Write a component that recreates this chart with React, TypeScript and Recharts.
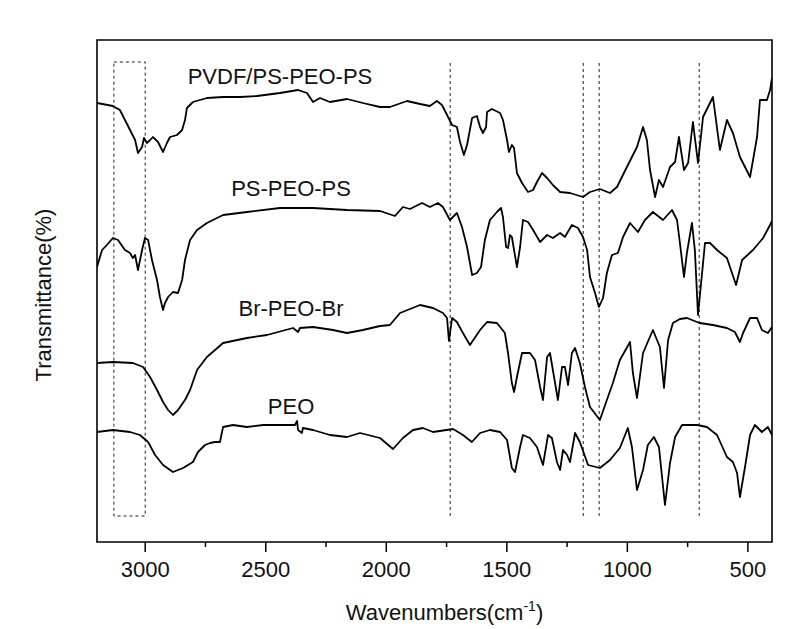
import React from 'react';
import { LineChart, Line, XAxis, YAxis, ReferenceArea, ReferenceLine, ReferenceDot, Label } from 'recharts';

const FONT = '"Liberation Sans", Arial, Helvetica, sans-serif';

// Wavenumbers (cm-1) and transmittance (arbitrary, offset units) for each spectrum
const pvdfWave = [3200,3134,3105,3084,3063,3042,3030,3013,3005,2993,2980,2968,2947,2926,2910,2897,2868,2847,2835,2827,2802,2744,2677,2607,2536,2441,2366,2329,2304,2275,2234,2163,2097,2026,1985,1914,1860,1819,1790,1769,1748,1727,1707,1694,1678,1665,1644,1624,1611,1599,1586,1582,1562,1528,1516,1499,1491,1479,1470,1458,1437,1412,1391,1375,1354,1333,1309,1279,1238,1184,1155,1114,1072,1043,1002,960,935,919,906,885,869,852,823,802,786,765,748,728,707,686,645,616,587,562,533,491,462,450,421,408,400];
const pvdfT = [439,436,432,422,412,402,389,395,404,399,402,405,400,390,399,405,407,412,422,434,440,444,445,445,446,449,452,449,440,444,440,443,439,435,435,441,438,436,441,437,427,417,415,400,387,397,424,426,415,409,415,430,433,429,422,402,390,397,394,369,359,350,352,360,369,364,357,350,349,345,350,353,349,355,375,395,415,402,372,345,362,355,375,380,405,372,379,420,379,425,445,392,422,409,385,365,405,442,442,452,464];

const psWave = [3200,3179,3159,3134,3113,3084,3063,3051,3042,3030,3013,3001,2988,2972,2951,2939,2926,2918,2905,2885,2864,2847,2835,2814,2785,2744,2677,2578,2441,2304,2163,2026,1964,1931,1902,1852,1819,1786,1765,1736,1707,1686,1665,1644,1624,1607,1591,1570,1541,1524,1516,1503,1495,1487,1479,1470,1458,1445,1433,1412,1391,1362,1333,1309,1279,1259,1230,1205,1184,1167,1155,1134,1118,1101,1085,1064,1039,1018,989,956,927,894,852,815,794,782,765,753,732,720,707,690,678,657,628,587,549,524,479,437,408,400];
const psT = [275,292,297,304,302,292,289,284,287,272,292,304,302,282,262,245,232,239,245,250,249,262,282,302,312,319,327,330,334,334,332,331,326,335,333,339,335,339,335,322,329,315,295,267,269,275,302,322,330,334,325,295,294,307,305,292,275,295,322,320,312,300,307,304,309,305,317,314,305,292,265,249,235,244,269,287,289,305,319,310,322,330,322,332,322,299,265,289,319,292,227,269,299,299,292,284,257,282,292,304,317,321];

const brWave = [3200,3134,3051,3009,2980,2951,2926,2905,2885,2864,2835,2814,2785,2744,2677,2578,2495,2387,2366,2358,2304,2221,2163,2097,2026,1985,1943,1860,1806,1765,1748,1740,1727,1707,1682,1653,1611,1582,1541,1508,1495,1479,1470,1458,1437,1404,1383,1362,1350,1333,1321,1309,1288,1271,1259,1246,1230,1217,1197,1176,1155,1114,1085,1060,1031,989,977,960,935,894,865,848,831,811,782,753,700,645,587,554,533,520,491,462,442,417,400];
const brT = [179,180,179,175,165,152,140,132,127,132,142,152,172,185,199,204,207,214,210,214,215,212,209,212,216,217,229,237,234,229,224,201,224,220,209,197,212,220,219,209,189,159,150,165,189,189,182,155,142,185,189,172,142,175,175,157,189,194,179,155,135,122,142,159,182,200,169,144,189,212,195,154,202,219,223,224,219,217,214,210,200,209,224,224,212,209,215];

const peoWave = [3200,3134,3063,3022,2988,2959,2926,2885,2843,2802,2781,2752,2731,2711,2690,2677,2636,2578,2511,2441,2379,2370,2366,2350,2346,2304,2234,2163,2109,2026,1972,1931,1889,1848,1806,1723,1682,1645,1611,1570,1528,1499,1479,1466,1445,1433,1404,1375,1350,1329,1313,1292,1279,1267,1250,1238,1217,1197,1163,1114,1072,1031,998,981,960,935,915,890,869,844,823,802,773,711,670,628,587,562,545,533,512,491,471,442,417,400];
const peoT = [110,112,110,107,100,87,77,70,74,80,90,97,99,100,100,115,117,115,117,117,117,121,112,109,114,112,107,105,109,104,93,104,112,114,110,113,107,100,109,112,110,102,74,70,95,107,104,95,77,107,104,80,72,92,87,80,109,100,77,74,82,94,114,95,52,72,97,105,95,37,79,105,117,117,115,107,85,80,69,45,75,107,117,110,115,107];

const xTicks = [3000, 2750, 2500, 2250, 2000, 1750, 1500, 1250, 1000, 750, 500];
const majorTicks = [3000, 2500, 2000, 1500, 1000, 500];
const markerLines = [1735, 1183, 1117, 702];
const boxRange = [3130, 3000];
const guideSpan = [26, 480];
const curveNames = ['PVDF/PS-PEO-PS', 'PS-PEO-PS', 'Br-PEO-Br', 'PEO'];
const nameWave = [2441, 2395, 2395, 2395];
const nameT = [458, 346, 226, 128];

const toPoints = (ws: number[], ts: number[]) => ws.map((w, i) => ({ w, v: ts[i] }));
const series = [
  toPoints(pvdfWave, pvdfT),
  toPoints(psWave, psT),
  toPoints(brWave, brT),
  toPoints(peoWave, peoT),
];

function XTick(props: any) {
  const { x, y, payload } = props;
  const major = majorTicks.includes(payload.value);
  return (
    <g>
      <line x1={x} y1={y} x2={x} y2={y + (major ? 10 : 5)} stroke="#000" strokeWidth={1.5} />
      {major && (
        <text x={x} y={y + 35} textAnchor="middle" fontSize={22} fontFamily={FONT} fill="#111">
          {payload.value}
        </text>
      )}
    </g>
  );
}

export default function App() {
  return (
    <div style={{ position: 'absolute', left: 0, top: 0, background: '#fff' }}>
      <LineChart width={801} height={629} margin={{ top: 40, right: 29, left: 0, bottom: 0 }}>
        <XAxis
          type="number"
          dataKey="w"
          domain={[400, 3200]}
          reversed
          ticks={xTicks}
          tick={<XTick />}
          tickLine={false}
          axisLine={false}
          tickSize={0}
          tickMargin={0}
          height={87}
          allowDataOverflow
          interval={0}
        >
          <Label
            content={(p: any) => {
              const vb = p.viewBox || { x: 97, y: 542, width: 675, height: 87 };
              return (
                <text x={vb.x + vb.width / 2 + 10} y={vb.y + 78} textAnchor="middle" fontSize={22} fontFamily={FONT} fill="#111">
                  Wavenumbers(cm<tspan dy={-9} fontSize={14}>-1</tspan><tspan dy={9}>)</tspan>
                </text>
              );
            }}
          />
        </XAxis>
        <YAxis
          type="number"
          domain={[0, 502]}
          width={97}
          tick={false}
          tickLine={false}
          axisLine={false}
          allowDataOverflow
        >
          <Label
            content={(p: any) => {
              const vb = p.viewBox || { x: 0, y: 40, width: 97, height: 502 };
              const cx = 51;
              const cy = vb.y + vb.height / 2 + 4;
              return (
                <text x={cx} y={cy} transform={`rotate(-90 ${cx} ${cy})`} textAnchor="middle" fontSize={22} fontFamily={FONT} fill="#111">
                  Transmittance(%)
                </text>
              );
            }}
          />
        </YAxis>
        <ReferenceArea x1={3200} x2={400} y1={0} y2={502} fill="none" fillOpacity={0} stroke="#000" strokeWidth={1.6} ifOverflow="visible" />
        <ReferenceArea x1={boxRange[0]} x2={boxRange[1]} y1={guideSpan[0]} y2={guideSpan[1]} fill="none" fillOpacity={0} stroke="#222" strokeWidth={1} strokeDasharray="3 3" ifOverflow="visible" />
        {markerLines.map((m) => (
          <ReferenceLine
            key={m}
            segment={[{ x: m, y: guideSpan[0] }, { x: m, y: guideSpan[1] }]}
            stroke="#222"
            strokeWidth={1}
            strokeDasharray="3 3"
            ifOverflow="visible"
          />
        ))}
        {series.map((d, i) => (
          <Line
            key={curveNames[i]}
            data={d}
            dataKey="v"
            type="linear"
            stroke="#000"
            strokeWidth={1.8}
            strokeLinejoin="round"
            dot={false}
            activeDot={false}
            isAnimationActive={false}
          />
        ))}
        {curveNames.map((n, i) => (
          <ReferenceDot
            key={'lbl' + n}
            x={nameWave[i]}
            y={nameT[i]}
            r={0}
            ifOverflow="visible"
            shape={(p: any) => (
              <text x={p.cx} y={p.cy} textAnchor="middle" fontSize={22} fontFamily={FONT} fill="#111">
                {n}
              </text>
            )}
          />
        ))}
      </LineChart>
    </div>
  );
}
